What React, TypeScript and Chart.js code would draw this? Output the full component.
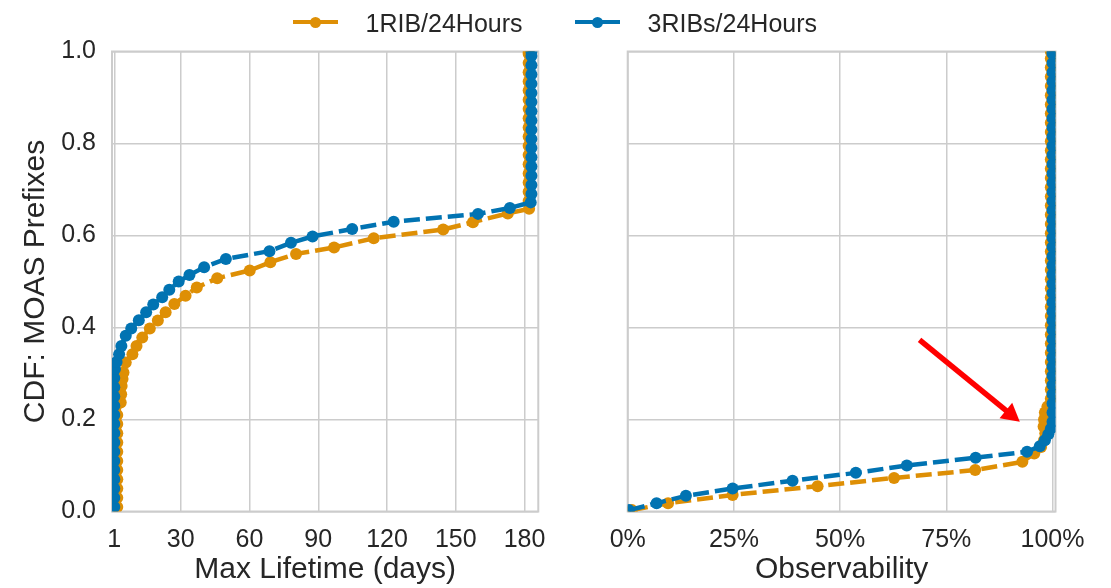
import React, { useEffect, useRef } from "react";
import { Chart, registerables } from "chart.js";
Chart.register(...registerables);

const ORANGE = "#de8f05";
const BLUE = "#0173b2";
const GRID = "#cccccc";
const TEXT = "#262626";
const FONT = "'Liberation Sans', Arial, sans-serif";

const seriesLabels = ["1RIB/24Hours", "3RIBs/24Hours"];
const lifetimeTicks = [1, 30, 60, 90, 120, 150, 180];
const observabilityTicks = [0, 25, 50, 75, 100];
const yTicks = [0, 0.2, 0.4, 0.6, 0.8, 1.0];

// Left panel, 1RIB/24Hours (orange)
const life1ColLowX = 2.3;
const life1ColLowY = [0.01, 0.03, 0.05, 0.07, 0.09, 0.11, 0.13, 0.15, 0.17, 0.19, 0.21];
const life1CurveX = [3.8, 4.0, 4.2, 4.6, 5.0, 6.0, 8.9, 10.7, 13.2, 16.5, 20.0, 23.4, 27.2, 32.1, 37.0, 45.9, 60.1, 69.1, 80.3, 96.9, 114.2, 144.5, 157.5, 172.7, 182.0];
const life1CurveY = [0.237, 0.255, 0.273, 0.288, 0.302, 0.324, 0.342, 0.36, 0.378, 0.398, 0.415, 0.433, 0.451, 0.469, 0.487, 0.507, 0.524, 0.542, 0.56, 0.574, 0.594, 0.613, 0.629, 0.648, 0.658];
const life1ColHighX = 181.8;
const life1ColHighY = [0.675, 0.695, 0.715, 0.735, 0.755, 0.775, 0.795, 0.815, 0.835, 0.855, 0.875, 0.895, 0.915, 0.935, 0.955, 0.975, 0.995, 1.0];

// Left panel, 3RIBs/24Hours (blue)
const life3ColLowX = 1;
const life3ColLowY = [0.01, 0.03, 0.05, 0.07, 0.09, 0.11, 0.13, 0.15, 0.17, 0.19, 0.21, 0.23, 0.25, 0.27, 0.29];
const life3CurveX = [1.3, 2.0, 3.1, 4.1, 6.0, 8.4, 11.7, 14.9, 18.0, 21.9, 25.0, 29.1, 33.8, 40.2, 49.7, 68.7, 78.1, 87.5, 104.8, 122.9, 159.7, 173.6, 182.7];
const life3CurveY = [0.31, 0.325, 0.342, 0.36, 0.382, 0.398, 0.416, 0.433, 0.45, 0.466, 0.482, 0.5, 0.514, 0.531, 0.549, 0.566, 0.584, 0.598, 0.614, 0.63, 0.647, 0.66, 0.672];
const life3ColHighX = 183;
const life3ColHighY = [0.69, 0.71, 0.73, 0.75, 0.77, 0.79, 0.81, 0.83, 0.85, 0.87, 0.89, 0.91, 0.93, 0.95, 0.97, 0.99, 1.0];

// Right panel, 1RIB/24Hours (orange)
const obs1CurveX = [1.0, 9.5, 24.7, 44.7, 62.7, 81.8, 92.9, 95.7, 97.3, 98.0, 98.3, 97.9, 98.0, 98.2, 98.8];
const obs1CurveY = [0.003, 0.018, 0.036, 0.055, 0.073, 0.09, 0.108, 0.126, 0.14, 0.155, 0.17, 0.185, 0.2, 0.215, 0.228];
const obs1ColX = 99.6;
const obs1ColY = [0.245, 0.265, 0.285, 0.305, 0.325, 0.345, 0.365, 0.385, 0.405, 0.425, 0.445, 0.465, 0.485, 0.505, 0.525, 0.545, 0.565, 0.585, 0.605, 0.625, 0.645, 0.665, 0.685, 0.705, 0.725, 0.745, 0.765, 0.785, 0.805, 0.825, 0.845, 0.865, 0.885, 0.905, 0.925, 0.945, 0.965, 0.985, 1.0];

// Right panel, 3RIBs/24Hours (blue)
const obs3CurveX = [0.3, 6.8, 13.7, 24.7, 38.8, 53.7, 65.7, 81.9, 94.0, 97.0, 98.2, 99.0, 99.6];
const obs3CurveY = [0.003, 0.018, 0.034, 0.05, 0.067, 0.084, 0.1, 0.117, 0.13, 0.142, 0.155, 0.168, 0.18];
const obs3ColX = 100;
const obs3ColY = [0.195, 0.215, 0.235, 0.255, 0.275, 0.295, 0.315, 0.335, 0.355, 0.375, 0.395, 0.415, 0.435, 0.455, 0.475, 0.495, 0.515, 0.535, 0.555, 0.575, 0.595, 0.615, 0.635, 0.655, 0.675, 0.695, 0.715, 0.735, 0.755, 0.775, 0.795, 0.815, 0.835, 0.855, 0.875, 0.895, 0.915, 0.935, 0.955, 0.975, 0.995, 1.0];

// Annotation arrow (data coordinates of right panel)
const arrowFrom = [68.7, 0.373];
const arrowTo = [92.3, 0.195];

type P = { x: number; y: number };
function col(x: number, ys: number[]): P[] {
  return ys.map((y) => ({ x, y }));
}
function pairs(xs: number[], ys: number[]): P[] {
  return xs.map((x, i) => ({ x, y: ys[i] }));
}

const life1Data = [...col(life1ColLowX, life1ColLowY), ...pairs(life1CurveX, life1CurveY), ...col(life1ColHighX, life1ColHighY)];
const life3Data = [...col(life3ColLowX, life3ColLowY), ...pairs(life3CurveX, life3CurveY), ...col(life3ColHighX, life3ColHighY)];
const obs1Data = [...pairs(obs1CurveX, obs1CurveY), ...col(obs1ColX, obs1ColY)];
const obs3Data = [...pairs(obs3CurveX, obs3CurveY), ...col(obs3ColX, obs3ColY)];

const framePlugin = {
  id: "frame",
  beforeDatasetsDraw(chart: any) {
    const { ctx, chartArea } = chart;
    const { left, top, right, bottom } = chartArea;
    ctx.save();
    ctx.strokeStyle = GRID;
    ctx.lineWidth = 2;
    ctx.strokeRect(left, top, right - left, bottom - top);
    ctx.restore();
  },
};

const arrowPlugin = {
  id: "arrow",
  afterDatasetsDraw(chart: any) {
    const { ctx, scales } = chart;
    const x0 = scales.x.getPixelForValue(arrowFrom[0]);
    const y0 = scales.y.getPixelForValue(arrowFrom[1]);
    const x1 = scales.x.getPixelForValue(arrowTo[0]);
    const y1 = scales.y.getPixelForValue(arrowTo[1]);
    const ang = Math.atan2(y1 - y0, x1 - x0);
    const headLen = 18;
    const headHalf = 10;
    const bx = x1 - headLen * Math.cos(ang);
    const by = y1 - headLen * Math.sin(ang);
    ctx.save();
    ctx.strokeStyle = "#ff0000";
    ctx.fillStyle = "#ff0000";
    ctx.lineWidth = 5.5;
    ctx.beginPath();
    ctx.moveTo(x0, y0);
    ctx.lineTo(bx + 2 * Math.cos(ang), by + 2 * Math.sin(ang));
    ctx.stroke();
    ctx.beginPath();
    ctx.moveTo(x1, y1);
    ctx.lineTo(bx + headHalf * Math.sin(ang), by - headHalf * Math.cos(ang));
    ctx.lineTo(bx - headHalf * Math.sin(ang), by + headHalf * Math.cos(ang));
    ctx.closePath();
    ctx.fill();
    ctx.restore();
  },
};

function dataset(label: string, data: P[], color: string, order: number) {
  return {
    label,
    data,
    borderColor: color,
    backgroundColor: color,
    borderWidth: 4.5,
    borderDash: [16, 6],
    pointRadius: 6,
    pointHoverRadius: 6,
    pointBorderWidth: 0,
    pointBackgroundColor: color,
    tension: 0,
    clip: 0,
    order,
  };
}

const tickFont = { size: 25, family: FONT };
const titleFont = { size: 30, family: FONT };

function makeConfig(left: boolean): any {
  const xTicks = left ? lifetimeTicks : observabilityTicks;
  return {
    type: "line",
    data: {
      datasets: left
        ? [dataset(seriesLabels[1], life3Data, BLUE, 0), dataset(seriesLabels[0], life1Data, ORANGE, 1)]
        : [dataset(seriesLabels[1], obs3Data, BLUE, 0), dataset(seriesLabels[0], obs1Data, ORANGE, 1)],
    },
    options: {
      animation: false,
      responsive: false,
      events: [],
      layout: { padding: { left: 0, right: left ? 19 : 55.5, top: 51.5, bottom: 0 } },
      plugins: { legend: { display: false }, tooltip: { enabled: false } },
      scales: {
        x: {
          type: "linear",
          min: 0,
          max: left ? 186 : 100.7,
          afterBuildTicks: (s: any) => {
            s.ticks = xTicks.map((v) => ({ value: v }));
          },
          afterFit: (s: any) => {
            s.height = 76.5;
          },
          ticks: {
            autoSkip: false,
            maxRotation: 0,
            padding: 14,
            font: tickFont,
            color: TEXT,
            callback: (v: any) => (left ? String(v) : v + "%"),
          },
          grid: { color: GRID, lineWidth: 1.5, drawTicks: false },
          border: { display: false },
          title: {
            display: true,
            text: left ? "Max Lifetime (days)" : "Observability",
            font: titleFont,
            color: TEXT,
            padding: { top: 0, bottom: 0 },
          },
        },
        y: {
          type: "linear",
          min: 0,
          max: 1,
          afterBuildTicks: (s: any) => {
            s.ticks = yTicks.map((v) => ({ value: v }));
          },
          afterFit: (s: any) => {
            s.width = left ? 112 : 67.7;
          },
          ticks: {
            display: left,
            padding: 16,
            font: tickFont,
            color: TEXT,
            callback: (v: any) => Number(v).toFixed(1),
          },
          grid: { color: GRID, lineWidth: 1.5, drawTicks: false },
          border: { display: false },
          title: {
            display: left,
            text: "CDF: MOAS Prefixes",
            font: titleFont,
            color: TEXT,
            padding: { top: 18, bottom: 0 },
          },
        },
      },
    },
    plugins: left ? [framePlugin] : [framePlugin, arrowPlugin],
  };
}

function LegendItem({ x, color, label }: { x: number; color: string; label: string }) {
  return (
    <>
      <div style={{ position: "absolute", left: x, top: 20, width: 45, height: 4.3, background: color }} />
      <div
        style={{
          position: "absolute",
          left: x + 17.2,
          top: 16.6,
          width: 11,
          height: 11,
          borderRadius: "50%",
          background: color,
        }}
      />
      <div
        style={{
          position: "absolute",
          left: x + 73,
          top: 10.6,
          fontSize: 25,
          lineHeight: "25px",
          color: TEXT,
          whiteSpace: "nowrap",
          fontFamily: FONT,
        }}
      >
        {label}
      </div>
    </>
  );
}

export default function App() {
  const leftRef = useRef<HTMLCanvasElement>(null);
  const rightRef = useRef<HTMLCanvasElement>(null);

  useEffect(() => {
    const c1 = new Chart(leftRef.current as HTMLCanvasElement, makeConfig(true));
    const c2 = new Chart(rightRef.current as HTMLCanvasElement, makeConfig(false));
    return () => {
      c1.destroy();
      c2.destroy();
    };
  }, []);

  return (
    <div
      style={{
        position: "absolute",
        left: 0,
        top: 0,
        width: 1111,
        height: 588,
        background: "#ffffff",
        fontFamily: FONT,
        overflow: "hidden",
      }}
    >
      <canvas ref={leftRef} width={560} height={588} style={{ position: "absolute", left: 0, top: 0 }} />
      <canvas ref={rightRef} width={551} height={588} style={{ position: "absolute", left: 560, top: 0 }} />
      <LegendItem x={292.5} color={ORANGE} label={seriesLabels[0]} />
      <LegendItem x={574.5} color={BLUE} label={seriesLabels[1]} />
    </div>
  );
}
